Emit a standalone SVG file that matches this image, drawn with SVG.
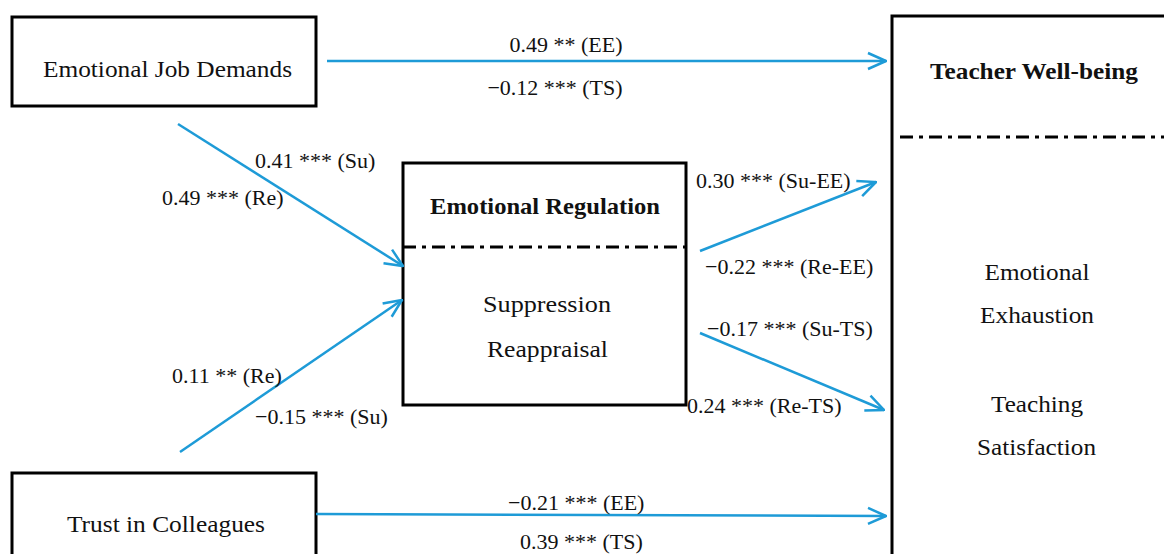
<svg xmlns="http://www.w3.org/2000/svg" width="1164" height="554" viewBox="0 0 1164 554">
<style>
.box{fill:#fff;stroke:#000;stroke-width:3}
.dd{stroke:#000;stroke-width:3;stroke-dasharray:13 6 4 6;fill:none}
.t{font-family:"Liberation Serif","Times New Roman",serif;font-size:22px;fill:#111}
.n{font-size:23px}
.b{font-weight:bold}
.m{text-anchor:middle}
.c{stroke:#1E9BD7;stroke-width:2.5;fill:none;marker-end:url(#ah)}
</style>
<defs>
<marker id="ah" markerUnits="userSpaceOnUse" viewBox="0 0 20 20" refX="19" refY="10" markerWidth="20" markerHeight="20" orient="auto">
<path d="M1,2 L19,10 L1,18" fill="none" stroke="#1E9BD7" stroke-width="2.5"/>
</marker>
</defs>
<rect width="1164" height="554" fill="#fff"/>
<g id="ejd">
<rect class="box" x="12" y="17" width="304" height="89"/>
<text class="t n m" x="167.5" y="77" textLength="249" lengthAdjust="spacingAndGlyphs">Emotional Job Demands</text>
</g>
<g id="tc">
<rect class="box" x="12" y="473" width="304" height="100"/>
<text class="t n m" x="166" y="532" textLength="198" lengthAdjust="spacingAndGlyphs">Trust in Colleagues</text>
</g>
<g id="er">
<rect class="box" x="403" y="163" width="283" height="242"/>
<line class="dd" x1="403" y1="247" x2="686" y2="247"/>
<text class="t n b m" x="545" y="214" textLength="230" lengthAdjust="spacingAndGlyphs">Emotional Regulation</text>
<text class="t n m" x="547" y="312" textLength="128" lengthAdjust="spacingAndGlyphs">Suppression</text>
<text class="t n m" x="547.5" y="357" textLength="121" lengthAdjust="spacingAndGlyphs">Reappraisal</text>
</g>
<g id="tw">
<rect class="box" x="892" y="16" width="300" height="600"/>
<line class="dd" x1="900" y1="137" x2="1164" y2="137"/>
<text class="t n b m" x="1034" y="79" textLength="208" lengthAdjust="spacingAndGlyphs">Teacher Well-being</text>
<text class="t n m" x="1037" y="280" textLength="105" lengthAdjust="spacingAndGlyphs">Emotional</text>
<text class="t n m" x="1037" y="323" textLength="114" lengthAdjust="spacingAndGlyphs">Exhaustion</text>
<text class="t n m" x="1037" y="412" textLength="92" lengthAdjust="spacingAndGlyphs">Teaching</text>
<text class="t n m" x="1036.5" y="455" textLength="119" lengthAdjust="spacingAndGlyphs">Satisfaction</text>
</g>
<g id="connectors">
<line class="c" x1="327" y1="61" x2="886" y2="61"/>
<line class="c" x1="316" y1="514" x2="886" y2="516"/>
<line class="c" x1="178" y1="124" x2="403" y2="266"/>
<line class="c" x1="180" y1="452" x2="402" y2="300"/>
<line class="c" x1="700" y1="251" x2="876" y2="182"/>
<line class="c" x1="700" y1="333" x2="884" y2="410"/>
</g>
<g id="labels">
<text class="t m" x="566" y="52">0.49 ** (EE)</text>
<text class="t m" x="555" y="95">−0.12 *** (TS)</text>
<text class="t" x="255" y="168">0.41 *** (Su)</text>
<text class="t" x="162" y="205">0.49 *** (Re)</text>
<text class="t" x="172" y="383">0.11 ** (Re)</text>
<text class="t" x="255" y="424">−0.15 *** (Su)</text>
<text class="t" x="696" y="188">0.30 *** (Su-EE)</text>
<text class="t" x="705" y="274">−0.22 *** (Re-EE)</text>
<text class="t" x="707" y="336">−0.17 *** (Su-TS)</text>
<text class="t" x="687" y="413">0.24 *** (Re-TS)</text>
<text class="t" x="508" y="510">−0.21 *** (EE)</text>
<text class="t" x="520" y="549">0.39 *** (TS)</text>
</g>
</svg>
